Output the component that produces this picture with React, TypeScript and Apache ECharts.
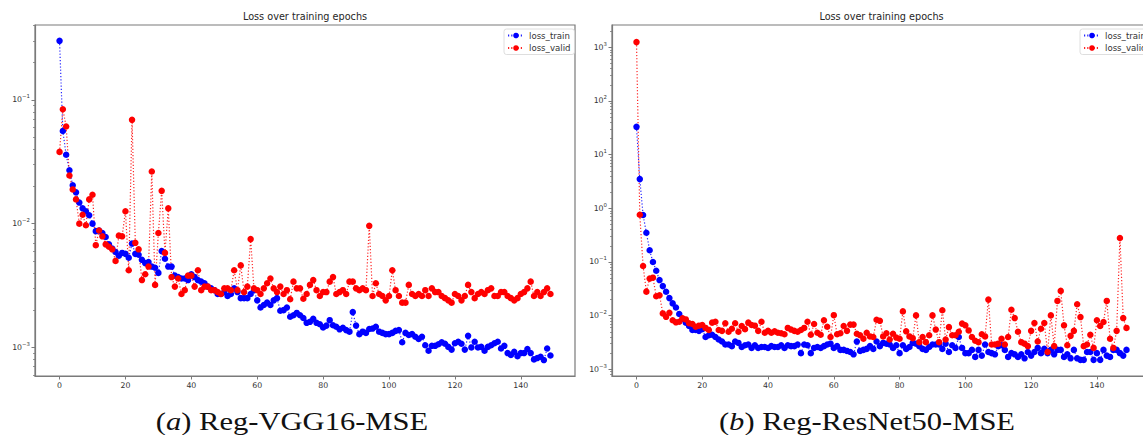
import React, { useEffect, useRef } from "react";
import * as echarts from "echarts";

const epochs: number[] = Array.from({ length: 150 }, (_, i) => i);

const vggTrain = [
  0.30, 0.056, 0.036, 0.027, 0.0204, 0.0179, 0.0148, 0.0133, 0.0126, 0.0117,
  0.010, 0.0087, 0.0088, 0.0084, 0.0078, 0.0068, 0.0063, 0.0059, 0.0055, 0.0058,
  0.0057, 0.0053, 0.0069, 0.0057, 0.0056, 0.0051, 0.0048, 0.0049, 0.0045, 0.0044,
  0.0040, 0.0060, 0.0052, 0.0045, 0.0045, 0.0038, 0.0037, 0.0036, 0.0036, 0.0035,
  0.0039, 0.0037, 0.0035, 0.0034, 0.0033, 0.0031, 0.0030, 0.0029, 0.0027, 0.0027,
  0.0028, 0.0026, 0.0027, 0.0030, 0.0028, 0.0025, 0.0025, 0.0025, 0.0027, 0.0029,
  0.0024, 0.0021, 0.0022, 0.0023, 0.0022, 0.0024, 0.0025, 0.00198, 0.0020, 0.0021,
  0.00177, 0.00182, 0.0019, 0.00182, 0.00173, 0.00158, 0.00161, 0.0017, 0.00158, 0.00154,
  0.00145, 0.0015, 0.00166, 0.00151, 0.00147, 0.0014, 0.00144, 0.00138, 0.00134, 0.00193,
  0.0015, 0.00128, 0.00134, 0.00131, 0.00141, 0.00142, 0.00147, 0.00134, 0.00131, 0.00128,
  0.00128, 0.00131, 0.00136, 0.00138, 0.0011, 0.00131, 0.00126, 0.00128, 0.00122, 0.00117,
  0.00122, 0.00104, 0.00094, 0.00103, 0.00103, 0.00106, 0.0011, 0.00107, 0.00101, 0.00096,
  0.00108, 0.00111, 0.00107, 0.00096, 0.00124, 0.001, 0.00111, 0.001, 0.00101, 0.00094,
  0.00101, 0.00104, 0.00108, 0.00111, 0.00098, 0.00103, 0.0009, 0.00087, 0.00092, 0.00085,
  0.0009, 0.0009, 0.00097, 0.0009, 0.0008, 0.00082, 0.00084, 0.00079, 0.00098, 0.00086,
];

const vggValid = [
  0.038, 0.084, 0.061, 0.0245, 0.0189, 0.0157, 0.010, 0.0118, 0.0097, 0.0157,
  0.0171, 0.0067, 0.0088, 0.0079, 0.0068, 0.0065, 0.0062, 0.0050, 0.0080, 0.0079,
  0.0126, 0.0042, 0.069, 0.0070, 0.0062, 0.0035, 0.0039, 0.0045, 0.0264, 0.0032,
  0.0084, 0.0184, 0.0058, 0.0133, 0.0037, 0.0031, 0.0036, 0.0027, 0.0029, 0.0038,
  0.0038, 0.0031, 0.0042, 0.0029, 0.0031, 0.0031, 0.0029, 0.0029, 0.0028, 0.0027,
  0.0030, 0.0030, 0.0029, 0.0042, 0.0029, 0.0046, 0.0028, 0.0031, 0.0075, 0.0030,
  0.0029, 0.0027, 0.0030, 0.0033, 0.0036, 0.0030, 0.0028, 0.0031, 0.0027, 0.0029,
  0.00245, 0.0034, 0.0030, 0.0030, 0.00247, 0.0027, 0.0032, 0.0035, 0.0029, 0.0026,
  0.0028, 0.0028, 0.0034, 0.0037, 0.0027, 0.0028, 0.0029, 0.0027, 0.0034, 0.0034,
  0.0030, 0.0029, 0.0030, 0.0029, 0.0096, 0.0026, 0.0033, 0.0027, 0.0026, 0.0024,
  0.0026, 0.0042, 0.0029, 0.0026, 0.0023, 0.0023, 0.0032, 0.0027, 0.0026, 0.0027,
  0.0026, 0.0029, 0.0026, 0.0030, 0.0028, 0.0028, 0.0026, 0.0025, 0.0024, 0.0023,
  0.0027, 0.0026, 0.0024, 0.0026, 0.0032, 0.0028, 0.0025, 0.0027, 0.0028, 0.0027,
  0.0029, 0.0030, 0.0026, 0.0026, 0.0028, 0.0028, 0.0026, 0.0025, 0.0024, 0.0025,
  0.0027, 0.0028, 0.0030, 0.0034, 0.0026, 0.0028, 0.0026, 0.0028, 0.0030, 0.0027,
];

const resTrain = [
  33, 3.5, 0.75, 0.35, 0.165, 0.10, 0.0686, 0.046, 0.0355, 0.0278,
  0.0212, 0.0169, 0.0142, 0.0107, 0.0087, 0.0074, 0.0064, 0.0054, 0.0054, 0.0052,
  0.0056, 0.0040, 0.0043, 0.0044, 0.0040, 0.0036, 0.0033, 0.0029, 0.0029, 0.0027,
  0.0033, 0.0031, 0.0026, 0.0028, 0.0029, 0.0025, 0.0028, 0.0025, 0.0026, 0.0026,
  0.0025, 0.0027, 0.0026, 0.0026, 0.0028, 0.0025, 0.0028, 0.0027, 0.0027, 0.0029,
  0.0020, 0.0029, 0.0028, 0.0020, 0.0025, 0.0026, 0.0025, 0.0027, 0.0029, 0.0030,
  0.0025, 0.0027, 0.0023, 0.0023, 0.0022, 0.0021, 0.0019, 0.0033, 0.0022, 0.0023,
  0.0024, 0.0027, 0.0024, 0.0033, 0.0027, 0.0031, 0.0030, 0.0029, 0.0025, 0.0028,
  0.0020, 0.0028, 0.0024, 0.0026, 0.0031, 0.0030, 0.0027, 0.0024, 0.0023, 0.0026,
  0.0029, 0.0029, 0.0029, 0.0024, 0.0030, 0.0021, 0.0028, 0.0025, 0.0040, 0.0025,
  0.0020, 0.0020, 0.0023, 0.0017, 0.0023, 0.0018, 0.0029, 0.0021, 0.0020, 0.0019,
  0.0027, 0.0028, 0.0023, 0.0017, 0.0020, 0.0019, 0.0017, 0.0019, 0.0016, 0.0021,
  0.0018, 0.0021, 0.0025, 0.0020, 0.0024, 0.0020, 0.0023, 0.0019, 0.0023, 0.0023,
  0.0017, 0.0019, 0.0016, 0.0023, 0.0016, 0.0015, 0.0015, 0.0021, 0.0021, 0.0015,
  0.0020, 0.0015, 0.0023, 0.0018, 0.0017, 0.0023, 0.0023, 0.0020, 0.0018, 0.0023,
];

const resValid = [
  1250, 0.76, 0.084, 0.028, 0.049, 0.051, 0.023, 0.024, 0.011, 0.0095,
  0.0113, 0.0082, 0.0075, 0.0077, 0.0089, 0.0085, 0.0072, 0.0070, 0.0062, 0.0065,
  0.0067, 0.0059, 0.0054, 0.0074, 0.0077, 0.0054, 0.0052, 0.0072, 0.0050, 0.0057,
  0.0072, 0.0050, 0.0064, 0.0056, 0.0074, 0.0067, 0.0065, 0.0052, 0.0077, 0.0048,
  0.0052, 0.0048, 0.0051, 0.0048, 0.0047, 0.0045, 0.0059, 0.0055, 0.0052, 0.0050,
  0.0054, 0.0059, 0.0077, 0.0044, 0.0070, 0.0048, 0.0044, 0.0082, 0.0062, 0.0040,
  0.0102, 0.0045, 0.0047, 0.0064, 0.0052, 0.0068, 0.0068, 0.0046, 0.0043, 0.0037,
  0.0048, 0.0041, 0.0040, 0.0084, 0.0080, 0.0041, 0.0047, 0.0036, 0.0046, 0.0039,
  0.0037, 0.0120, 0.0051, 0.0041, 0.0038, 0.0101, 0.0032, 0.0040, 0.0032, 0.0043,
  0.0101, 0.0055, 0.0032, 0.0126, 0.0036, 0.0061, 0.0043, 0.0043, 0.0050, 0.0071,
  0.0066, 0.0053, 0.0040, 0.0034, 0.0032, 0.0045, 0.0041, 0.0199, 0.0029, 0.0029,
  0.0030, 0.0037, 0.0029, 0.0040, 0.0129, 0.0090, 0.0050, 0.0032, 0.0030, 0.0027,
  0.0052, 0.0073, 0.0033, 0.0057, 0.0073, 0.0021, 0.0101, 0.0027, 0.0188, 0.0289,
  0.0066, 0.0028, 0.0042, 0.0052, 0.0163, 0.0094, 0.0027, 0.0029, 0.0044, 0.0025,
  0.0082, 0.0064, 0.0076, 0.0188, 0.0037, 0.0025, 0.0052, 0.28, 0.0090, 0.0059,
];

const xTicks = [0, 20, 40, 60, 80, 100, 120, 140];
const vggYTicks = [0.001, 0.01, 0.1];
const resYTicks = [0.001, 0.01, 0.1, 1, 10, 100, 1000];
const seriesNames = ["loss_train", "loss_valid"];
const titleText = "Loss over training epochs";
const captionA = { tag: "a", name: " Reg-VGG16-MSE" };
const captionB = { tag: "b", name: " Reg-ResNet50-MSE" };

const minorTicks = (lo: number, hi: number) => {
  const out: number[] = [];
  for (let k = lo; k <= hi; k++) for (let m = 2; m <= 9; m++) out.push(m * Math.pow(10, k));
  return out;
};

const AXIS_COLOR = "#7a7a7a";
const LABEL_COLOR = "#333";
const FONT = "DejaVu Sans";

const supFormatter = (v: number) => {
  const e = Math.round(Math.log10(v));
  return `{b|10}{s|${e < 0 ? "\u2212" + -e : e}}`;
};

function xAxisOf(gridIndex: number) {
  return {
    gridIndex,
    type: "value",
    position: "bottom",
    min: -7.45,
    max: 156.45,
    axisLine: { show: true, onZero: false, lineStyle: { color: AXIS_COLOR, width: 1.2 } },
    axisTick: { show: true, length: 3.5, customValues: xTicks, lineStyle: { color: AXIS_COLOR, width: 1 } },
    axisLabel: { customValues: xTicks, fontSize: 7.8, color: LABEL_COLOR, margin: 5, fontFamily: FONT },
    splitLine: { show: false },
  };
}

function yAxesOf(gridIndex: number, min: number, max: number, ticks: number[], minor: number[]) {
  return [
    {
      gridIndex,
      type: "log",
      logBase: 10,
      position: "left",
      min,
      max,
      axisLine: { show: true, onZero: false, lineStyle: { color: AXIS_COLOR, width: 1.2 } },
      axisTick: { show: true, length: 3.5, customValues: ticks, lineStyle: { color: AXIS_COLOR, width: 1 } },
      axisLabel: {
        customValues: ticks,
        margin: 5,
        formatter: supFormatter,
        rich: {
          b: { fontSize: 7.8, color: LABEL_COLOR, fontFamily: FONT },
          s: { fontSize: 5.4, color: LABEL_COLOR, fontFamily: FONT, padding: [0, 0, 7, 0] },
        },
      },
      splitLine: { show: false },
      minorTick: { show: false },
    },
    {
      gridIndex,
      type: "log",
      logBase: 10,
      position: "left",
      offset: 0,
      min,
      max,
      axisLine: { show: false, onZero: false },
      axisTick: { show: true, length: 2, customValues: minor, lineStyle: { color: AXIS_COLOR, width: 0.8 } },
      axisLabel: { show: false },
      splitLine: { show: false },
    },
  ];
}

function lineSeries(name: string, color: string, values: number[], xi: number, yi: number) {
  return {
    name,
    type: "line",
    xAxisIndex: xi,
    yAxisIndex: yi,
    data: epochs.map((e, i) => [e, values[i]]),
    symbol: "circle",
    symbolSize: 6.5,
    showSymbol: true,
    showAllSymbol: true,
    itemStyle: { color, borderWidth: 0 },
    lineStyle: { color, width: 1.2, type: [1.2, 2], opacity: 0.85 },
    emphasis: { disabled: true },
    animation: false,
  };
}

function legendOf(left: number) {
  return {
    orient: "vertical",
    left,
    top: 29,
    data: seriesNames,
    selectedMode: false,
    itemWidth: 16,
    itemHeight: 7,
    itemGap: 3.5,
    padding: [2, 4, 2, 3],
    backgroundColor: "rgba(255,255,255,0.85)",
    borderColor: "#d5d5d5",
    borderWidth: 0.8,
    borderRadius: 2.5,
    textStyle: { fontSize: 8.6, color: LABEL_COLOR, fontFamily: FONT },
  };
}

function caption(cx: number, c: { tag: string; name: string }) {
  return {
    type: "text",
    x: cx,
    y: 421,
    scaleX: 1.175,
    silent: true,
    style: {
      x: 0,
      y: 0,
      text: `{p|(}{i|${c.tag}}{p|)${c.name}}`,
      align: "center",
      verticalAlign: "middle",
      fontSize: 26,
      fontFamily: "Liberation Serif",
      fill: "#111",
      rich: {
        p: { fontSize: 26, fontFamily: "Liberation Serif", color: "#111" },
        i: { fontSize: 26, fontFamily: "Liberation Serif", fontStyle: "italic", color: "#111" },
      },
    },
  };
}

function title(cx: number) {
  return {
    type: "text",
    x: cx,
    y: 16,
    silent: true,
    style: {
      text: titleText,
      align: "center",
      verticalAlign: "middle",
      fontSize: 9.7,
      fontFamily: FONT,
      fill: "#262626",
    },
  };
}

const vggMin = Math.pow(10, -3.231);
const vggMax = Math.pow(10, -0.395);
const resMin = Math.pow(10, -3.125);
const resMax = Math.pow(10, 3.416);

const option: any = {
  animation: false,
  backgroundColor: "#fff",
  grid: [
    { left: 35, top: 25, width: 540, height: 351, show: true, borderColor: AXIS_COLOR, borderWidth: 1.2, backgroundColor: "transparent", containLabel: false, outerBoundsMode: "none" },
    { left: 612, top: 25, width: 539, height: 351, show: true, borderColor: AXIS_COLOR, borderWidth: 1.2, backgroundColor: "transparent", containLabel: false, outerBoundsMode: "none" },
  ],
  xAxis: [xAxisOf(0), xAxisOf(1)],
  yAxis: [
    ...yAxesOf(0, vggMin, vggMax, vggYTicks, minorTicks(-4, 0)),
    ...yAxesOf(1, resMin, resMax, resYTicks, minorTicks(-4, 3)),
  ],
  legend: [legendOf(504), legendOf(1080)],
  series: [
    lineSeries(seriesNames[0], "#0000ff", vggTrain, 0, 0),
    lineSeries(seriesNames[1], "#ff0000", vggValid, 0, 0),
    lineSeries(seriesNames[0], "#0000ff", resTrain, 1, 2),
    lineSeries(seriesNames[1], "#ff0000", resValid, 1, 2),
  ],
  graphic: [title(305), title(881.5), caption(292, captionA), caption(867, captionB)],
};

export default function App() {
  const ref = useRef<HTMLDivElement>(null);
  useEffect(() => {
    if (!ref.current) return;
    const chart = echarts.init(ref.current, null, { renderer: "svg" });
    chart.setOption(option);
    return () => chart.dispose();
  }, []);
  return (
    <div
      ref={ref}
      style={{ position: "fixed", left: 0, top: 0, width: 1143, height: 435, background: "#fff" }}
    />
  );
}
